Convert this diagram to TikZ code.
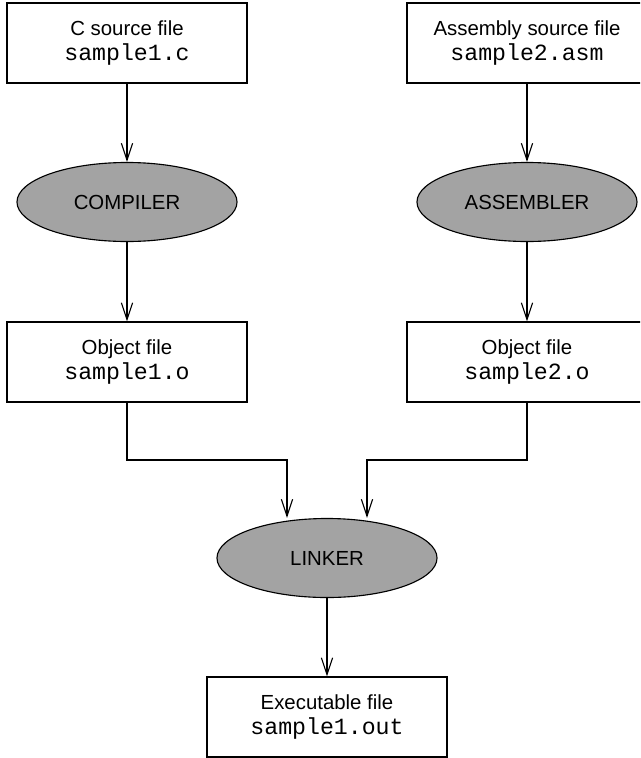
\documentclass[tikz,border=0pt]{standalone}
\usepackage{fontspec}
\usepackage{tikz}
\usetikzlibrary{shapes, positioning, arrows.meta, calc}
\newfontfamily\boxfont{Liberation Sans}
\newfontfamily\codefont{Liberation Mono}
\newcommand{\code}[1]{{\fontsize{16.5}{17}\codefont #1}}

\begin{document}
\begin{tikzpicture}[
    x = 0.025cm,
    y = -0.025cm,
    > = {Straight Barb[length=12pt, width=8pt]},
    line width = 0.8pt,
    filebox/.style={draw, rectangle, minimum width=6cm, minimum height=2cm,
        inner sep=0pt, align=center, font=\fontsize{14.5}{18}\boxfont},
    tool/.style={draw, ellipse, fill=black!36, minimum width=5.5cm,
        minimum height=1.975cm, inner sep=0pt, font=\fontsize{14.5}{17}\boxfont}
]
\useasboundingbox (0,0) rectangle (640,758);
\clip (0,0) rectangle (640,758);

% --- Sources ---
\node[filebox] (src1) at (127, 43) {C source file\\\code{sample1.c}};
\node[filebox] (src2) at (527, 43) {Assembly source file\\\code{sample2.asm}};

% --- Translators ---
\node[tool] (comp) at (127, 202) {COMPILER};
\node[tool] (asm) at (527, 202) {ASSEMBLER};

% --- Object files ---
\node[filebox] (obj1) at (127, 362) {Object file\\\code{sample1.o}};
\node[filebox] (obj2) at (527, 362) {Object file\\\code{sample2.o}};

% --- Linking ---
\node[tool] (link) at (327, 558) {LINKER};
\node[filebox] (exe) at (327, 717) {Executable file\\\code{sample1.out}};

\coordinate (j1) at (287, 460);
\coordinate (j2) at (367, 460);

% Edges
\draw[->] (src1) -- (comp);
\draw[->] (src2) -- (asm);
\draw[->] (comp) -- (obj1);
\draw[->] (asm) -- (obj2);
\draw[->] (obj1) |- (j1) -- (j1 |- link.north);
\draw[->] (obj2) |- (j2) -- (j2 |- link.north);
\draw[->] (link) -- (exe);

\end{tikzpicture}
\end{document}
